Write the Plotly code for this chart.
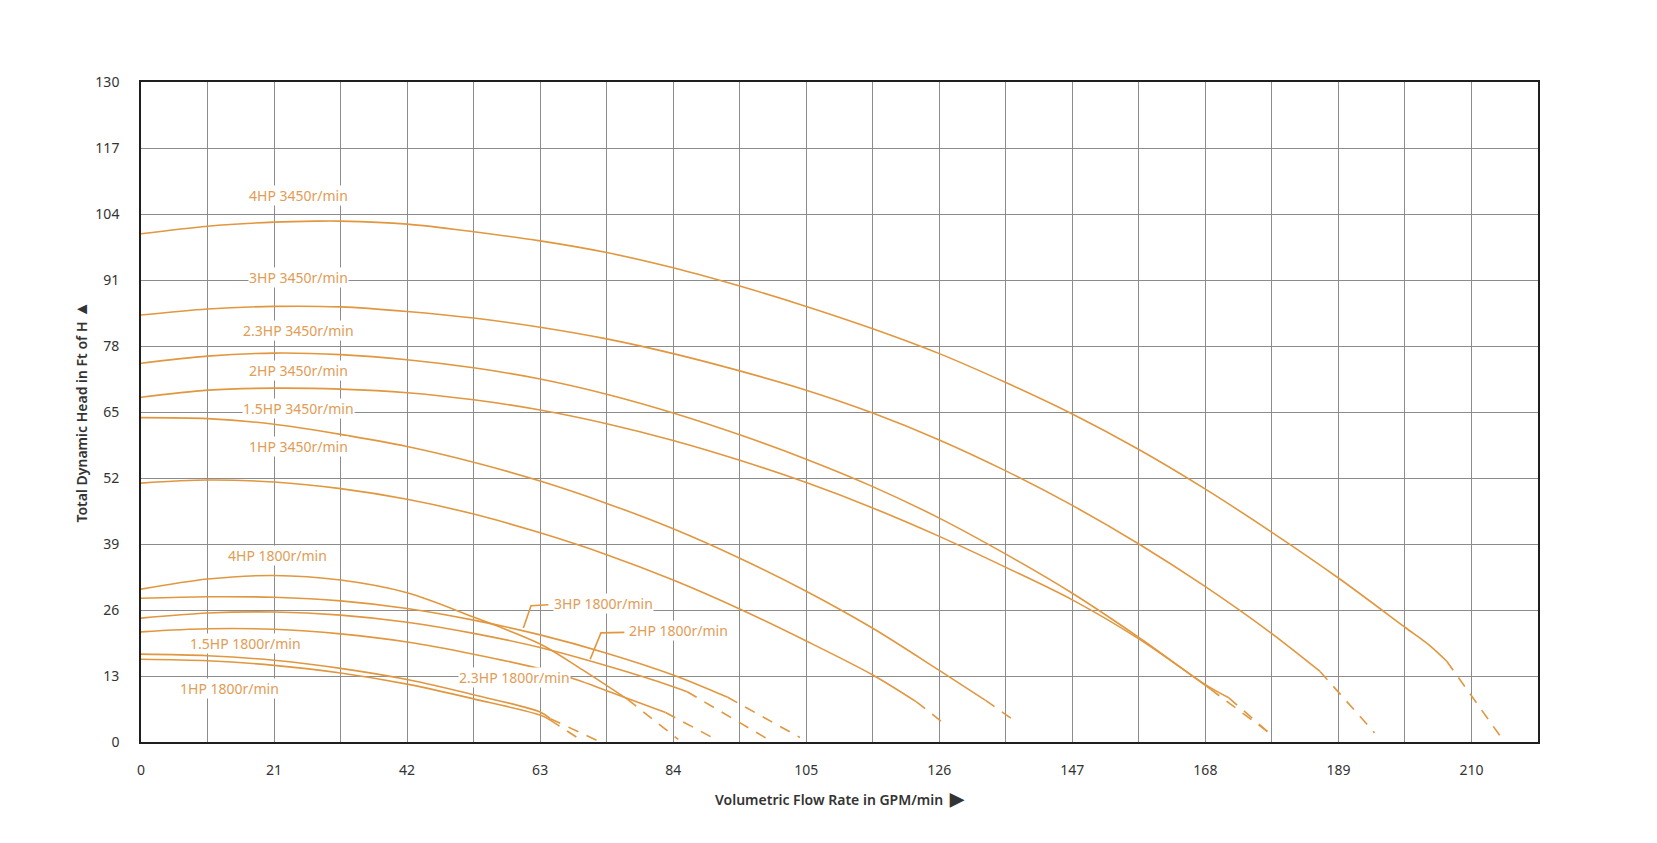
import plotly.graph_objects as go

# ---------------- data (flow GPM/min, head ft) ----------------
# 3450 r/min curves (solid part + dashed tail)
hp4_3450_x = [0, 10.5, 21, 27.6, 31.5, 42, 52.5, 63, 73.5, 84, 94.5, 105, 115.5, 126, 136.5, 147, 157.5, 168, 178.5, 189, 199.5, 203.6, 206.1]
hp4_3450_y = [100.1, 101.6, 102.4, 102.6, 102.6, 102.0, 100.5, 98.7, 96.4, 93.4, 89.8, 85.8, 81.4, 76.5, 70.8, 64.6, 57.6, 49.8, 41.3, 32.3, 22.6, 18.8, 15.9]
hp4_3450_dx = [206.1, 215.2]
hp4_3450_dy = [15.9, 0.0]

hp3_3450_x = [0, 10.5, 21, 31.5, 42, 52.5, 63, 73.5, 84, 94.5, 105, 115.5, 126, 136.5, 147, 157.5, 168, 178, 186.1]
hp3_3450_y = [84.1, 85.3, 85.8, 85.7, 84.8, 83.5, 81.7, 79.4, 76.5, 73.1, 69.3, 64.8, 59.5, 53.4, 46.6, 39.0, 30.6, 21.8, 13.9]
hp3_3450_dx = [186.1, 194.7]
hp3_3450_dy = [13.9, 1.8]

hp23_3450_x = [0, 10.5, 21, 31.5, 42, 52.5, 63, 73.5, 84, 94.5, 105, 115.5, 126, 136.5, 147, 157.5, 168, 171.7]
hp23_3450_y = [74.6, 76.0, 76.6, 76.3, 75.3, 73.7, 71.5, 68.5, 64.8, 60.5, 55.7, 50.3, 44.1, 37.0, 29.3, 20.6, 11.3, 8.7]
hp23_3450_dx = [171.7, 178.6]
hp23_3450_dy = [8.7, 1.2]

hp2_3450_x = [0, 10.5, 21, 31.5, 42, 52.5, 63, 73.5, 84, 94.5, 105, 115.5, 126, 136.5, 147, 157.5, 168.8]
hp2_3450_y = [67.9, 69.3, 69.7, 69.5, 68.8, 67.4, 65.4, 62.7, 59.4, 55.5, 51.1, 46.1, 40.5, 34.4, 28.0, 20.3, 10.4]
hp2_3450_dx = [168.8, 178.3]
hp2_3450_dy = [10.4, 1.6]

hp15_3450_x = [0, 10.5, 21, 31.5, 42, 52.5, 63, 73.5, 84, 94.5, 105, 115.5, 126, 133.3]
hp15_3450_y = [63.9, 63.7, 62.6, 60.6, 58.2, 55.1, 51.4, 47.0, 42.0, 36.2, 29.7, 22.4, 14.1, 8.2]
hp15_3450_dx = [133.3, 138.2]
hp15_3450_dy = [8.2, 3.9]

hp1_3450_x = [0, 10.5, 21, 31.5, 42, 52.5, 63, 73.5, 84, 94.5, 105, 115.5, 122.4]
hp1_3450_y = [51.0, 51.6, 51.2, 49.9, 47.8, 44.9, 41.2, 36.9, 31.9, 26.2, 19.9, 13.2, 7.9]
hp1_3450_dx = [122.4, 127.1]
hp1_3450_dy = [7.9, 3.3]

# 1800 r/min curves
hp4_1800_x = [0, 10.5, 21, 31.5, 42, 52.5, 63, 69.7, 76.8]
hp4_1800_y = [30.1, 32.1, 32.8, 31.9, 29.4, 24.6, 19.3, 14.2, 8.4]
hp4_1800_dx = [76.8, 84.8]
hp4_1800_dy = [8.4, 0.5]

hp3_1800_x = [0, 10.5, 21, 31.5, 42, 52.5, 63, 73.5, 84, 92.6]
hp3_1800_y = [28.3, 28.6, 28.5, 27.8, 26.3, 24.0, 21.1, 17.5, 13.2, 8.8]
hp3_1800_dx = [92.6, 104.0]
hp3_1800_dy = [8.8, 0.9]

hp2_1800_x = [0, 10.5, 21, 31.5, 42, 52.5, 63, 73.5, 84, 86.2]
hp2_1800_y = [24.4, 25.4, 25.6, 25.0, 23.6, 21.4, 18.6, 15.0, 10.9, 9.9]
hp2_1800_dx = [86.2, 99.7]
hp2_1800_dy = [9.9, 0.0]

hp23_1800_x = [0, 10.5, 21, 31.5, 42, 52.5, 63, 68.9, 73.5, 82.8]
hp23_1800_y = [21.7, 22.3, 22.2, 21.3, 19.7, 17.3, 14.4, 12.2, 10.1, 5.8]
hp23_1800_dx = [82.8, 90.0]
hp23_1800_dy = [5.8, 1.0]

hp15_1800_x = [0, 10.5, 21, 31.5, 42, 52.5, 63, 64.6]
hp15_1800_y = [17.3, 17.0, 16.1, 14.5, 12.3, 9.3, 5.9, 4.6]
hp15_1800_dx = [64.6, 72.5]
hp15_1800_dy = [4.6, 0.0]

hp1_1800_x = [0, 10.5, 21, 31.5, 42, 52.5, 63, 64.6]
hp1_1800_y = [16.3, 16.0, 15.1, 13.6, 11.4, 8.5, 5.3, 4.3]
hp1_1800_dx = [64.6, 69.7]
hp1_1800_dy = [4.3, 0.2]

# curve labels
label_texts = ["4HP 3450r/min", "3HP 3450r/min", "2.3HP 3450r/min", "2HP 3450r/min",
               "1.5HP 3450r/min", "1HP 3450r/min", "4HP 1800r/min", "1.5HP 1800r/min",
               "1HP 1800r/min", "2.3HP 1800r/min"]
label_x = [24.8, 24.8, 24.9, 24.8, 24.9, 24.8, 21.5, 16.5, 14.0, 59.0]
label_y = [107.7, 91.5, 81.1, 73.2, 65.6, 58.2, 36.8, 19.5, 10.6, 12.7]

# labels with leader lines
leader_texts = ["3HP 1800r/min", "2HP 1800r/min"]
leader_text_x = [65.0, 76.8]
leader_text_y = [27.2, 22.0]
leader3_x = [60.35, 61.56, 64.3]
leader3_y = [22.45, 26.85, 27.04]
leader2_x = [70.9, 72.6, 76.3]
leader2_y = [16.3, 21.5, 21.6]

x_ticks = [0, 21, 42, 63, 84, 105, 126, 147, 168, 189, 210]
y_ticks = [0, 13, 26, 39, 52, 65, 78, 91, 104, 117, 130]

# ---------------- figure ----------------
LINE = "#E1973F"
TEXT = "#E19C55"
FONT = "Noto Sans"

curves = [
    (hp4_3450_x, hp4_3450_y, hp4_3450_dx, hp4_3450_dy),
    (hp3_3450_x, hp3_3450_y, hp3_3450_dx, hp3_3450_dy),
    (hp23_3450_x, hp23_3450_y, hp23_3450_dx, hp23_3450_dy),
    (hp2_3450_x, hp2_3450_y, hp2_3450_dx, hp2_3450_dy),
    (hp15_3450_x, hp15_3450_y, hp15_3450_dx, hp15_3450_dy),
    (hp1_3450_x, hp1_3450_y, hp1_3450_dx, hp1_3450_dy),
    (hp4_1800_x, hp4_1800_y, hp4_1800_dx, hp4_1800_dy),
    (hp3_1800_x, hp3_1800_y, hp3_1800_dx, hp3_1800_dy),
    (hp2_1800_x, hp2_1800_y, hp2_1800_dx, hp2_1800_dy),
    (hp23_1800_x, hp23_1800_y, hp23_1800_dx, hp23_1800_dy),
    (hp15_1800_x, hp15_1800_y, hp15_1800_dx, hp15_1800_dy),
    (hp1_1800_x, hp1_1800_y, hp1_1800_dx, hp1_1800_dy),
]

fig = go.Figure()
for sx, sy, dx, dy in curves:
    fig.add_trace(go.Scatter(x=sx, y=sy, mode="lines",
                             line=dict(color=LINE, width=1.6, shape="spline", smoothing=0.9),
                             hoverinfo="skip", showlegend=False))
    fig.add_trace(go.Scatter(x=dx, y=dy, mode="lines", line=dict(color=LINE, width=1.6, dash="11px,9px"),
                             hoverinfo="skip", showlegend=False))

for lx, ly in [(leader3_x, leader3_y), (leader2_x, leader2_y)]:
    fig.add_trace(go.Scatter(x=lx, y=ly, mode="lines", line=dict(color=LINE, width=1.6),
                             hoverinfo="skip", showlegend=False))

for t, x, y in zip(label_texts, label_x, label_y):
    fig.add_annotation(x=x, y=y, text=t, showarrow=False, xanchor="center", yanchor="middle",
                       font=dict(family=FONT, size=14, color=TEXT), bgcolor="white", borderpad=0)
for t, x, y in zip(leader_texts, leader_text_x, leader_text_y):
    fig.add_annotation(x=x, y=y, text=t, showarrow=False, xanchor="left", yanchor="middle",
                       font=dict(family=FONT, size=14, color=TEXT), bgcolor="white", borderpad=0)

fig.add_annotation(xref="paper", yref="paper", x=0.5, y=-0.085,
                   text="Volumetric Flow Rate in GPM/min&nbsp;&nbsp;<span style='font-size:18px'>▶</span>",
                   showarrow=False, xanchor="center", yanchor="middle",
                   font=dict(family=FONT, size=14, color="#333333", weight=600))
fig.add_annotation(xref="paper", yref="paper", x=-0.044, y=0.5,
                   text="Total Dynamic Head in Ft of H <span style='font-size:17px'>▲</span>",
                   showarrow=False, xanchor="center", yanchor="middle", textangle=-90,
                   font=dict(family=FONT, size=14, color="#333333", weight=600))

fig.update_layout(
    width=1657, height=843,
    margin=dict(l=141, r=119, t=82, b=101),
    paper_bgcolor="white", plot_bgcolor="white",
    font=dict(family=FONT, size=14, color="#333333"),
    showlegend=False,
)
fig.update_xaxes(range=[0, 220.5], tickvals=x_ticks, ticktext=[str(v) for v in x_ticks],
                 showgrid=True, gridcolor="#8c8c8c", gridwidth=1.2,
                 minor=dict(dtick=10.5, tick0=0, showgrid=True, gridcolor="#8c8c8c", gridwidth=1.2),
                 showline=True, mirror=True, linecolor="#1f1f1f", linewidth=1.6,
                 zeroline=False, ticks="", ticklabelstandoff=14,
                 tickfont=dict(family=FONT, size=14, color="#333333"))
fig.update_yaxes(range=[0, 130], tickvals=y_ticks, ticktext=[str(v) for v in y_ticks],
                 showgrid=True, gridcolor="#8c8c8c", gridwidth=1.2,
                 showline=True, mirror=True, linecolor="#1f1f1f", linewidth=1.6,
                 zeroline=False, ticks="", ticklabelstandoff=17,
                 tickfont=dict(family=FONT, size=14, color="#333333"))

fig.write_html("out.html")
